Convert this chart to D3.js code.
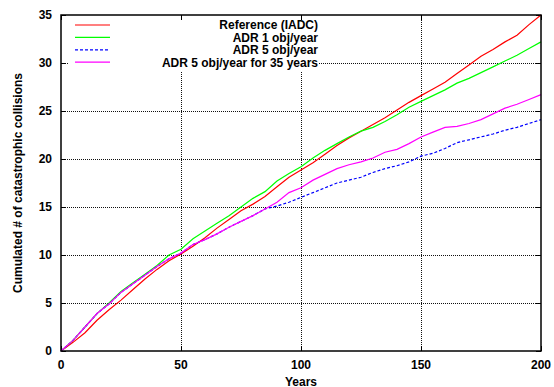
<!DOCTYPE html>
<html>
<head>
<meta charset="utf-8">
<script src="https://cdn.jsdelivr.net/npm/d3@7"></script>
<style>
  body { margin: 0; background: #fff; }
  text { font-family: "Liberation Sans", Arial, sans-serif; font-weight: bold; fill: #000; }
</style>
</head>
<body>
<div id="chart"></div>
<script>
const width = 554;
const height = 387;

// years sampled every 5
const years = d3.range(0, 201, 5);

const reference = [0, 0.9, 1.9, 3.2, 4.3, 5.3, 6.4, 7.5, 8.5, 9.4, 10.1, 10.9, 11.8, 12.8, 13.7, 14.6, 15.3, 16.1, 17.1, 18.1, 18.85,
  19.6, 20.5, 21.4, 22.2, 22.9, 23.6, 24.3, 25.1, 25.9, 26.6, 27.3, 28.0, 28.9, 29.8, 30.7, 31.4, 32.2, 32.9, 34.0, 35.0];
const adr1 = [0, 1.1, 2.5, 3.9, 5.0, 6.2, 7.1, 8.0, 8.9, 10.0, 10.6, 11.7, 12.5, 13.3, 14.1, 15.0, 15.9, 16.6, 17.7, 18.5, 19.2,
  20.1, 20.9, 21.6, 22.3, 22.9, 23.3, 23.9, 24.6, 25.4, 26.0, 26.6, 27.2, 27.9, 28.4, 29.0, 29.6, 30.2, 30.8, 31.5, 32.2];
const adr5 = [0, 1.1, 2.5, 3.9, 4.9, 6.1, 7.0, 7.9, 8.8, 9.6, 10.2, 11.1, 11.6, 12.2, 12.9, 13.5, 14.1, 14.8, 15.1, 15.5, 16.0,
  16.5, 17.0, 17.5, 17.8, 18.1, 18.6, 19.0, 19.3, 19.7, 20.3, 20.6, 21.1, 21.7, 22.0, 22.3, 22.6, 23.0, 23.3, 23.7, 24.1];
const adr5for35 = [0, 1.1, 2.5, 3.9, 4.9, 6.1, 7.0, 7.9, 8.8, 9.6, 10.2, 11.1, 11.6, 12.2, 12.9, 13.5, 14.1, 14.8, 15.5, 16.5, 17.0,
  17.8, 18.4, 19.0, 19.4, 19.7, 20.1, 20.7, 21.0, 21.6, 22.3, 22.8, 23.3, 23.4, 23.7, 24.1, 24.7, 25.3, 25.7, 26.2, 26.7];

const seriesNames = ["Reference (IADC)", "ADR 1 obj/year", "ADR 5 obj/year", "ADR 5 obj/year for 35 years"];
const seriesValues = [reference, adr1, adr5, adr5for35];
const seriesColors = ["#ff0000", "#00ff00", "#0000ff", "#ff00ff"];
const seriesDash = [null, null, "3,2", null];

const xTicks = [0, 50, 100, 150, 200];
const yTicks = [0, 5, 10, 15, 20, 25, 30, 35];

const margin = { left: 61, right: 13, top: 15, bottom: 36 };

const svg = d3.select('#chart')
  .append('svg')
  .attr('width', width)
  .attr('height', height);

const x = d3.scaleLinear().domain([0, 200]).range([margin.left, width - margin.right]);
const y = d3.scaleLinear().domain([0, 35]).range([height - margin.bottom, margin.top]);

// grid
const grid = svg.append('g')
  .attr('stroke', '#111')
  .attr('stroke-width', 1)
  .attr('stroke-dasharray', '1,1');
grid.selectAll('.gx')
  .data(xTicks.slice(1, -1))
  .enter().append('line')
  .attr('x1', d => Math.round(x(d)) + 0.5).attr('x2', d => Math.round(x(d)) + 0.5)
  .attr('y1', y(0)).attr('y2', y(35));
grid.selectAll('.gy')
  .data(yTicks.slice(1, -1))
  .enter().append('line')
  .attr('y1', d => Math.round(y(d)) + 0.5).attr('y2', d => Math.round(y(d)) + 0.5)
  .attr('x1', x(0)).attr('x2', x(200));

// legend background box hides grid behind it
svg.append('rect')
  .attr('x', 68).attr('y', 18)
  .attr('width', 251).attr('height', 53)
  .attr('fill', '#fff');

// ticks (inside, mirrored)
const tickLen = 5;
const ticks = svg.append('g').attr('stroke', '#000').attr('stroke-width', 1);
xTicks.forEach(t => {
  const px = Math.round(x(t)) + 0.5;
  ticks.append('line').attr('x1', px).attr('x2', px).attr('y1', y(0)).attr('y2', y(0) - tickLen);
  ticks.append('line').attr('x1', px).attr('x2', px).attr('y1', y(35)).attr('y2', y(35) + tickLen);
});
yTicks.forEach(t => {
  const py = Math.round(y(t)) + 0.5;
  ticks.append('line').attr('x1', x(0)).attr('x2', x(0) + tickLen).attr('y1', py).attr('y2', py);
  ticks.append('line').attr('x1', x(200)).attr('x2', x(200) - tickLen).attr('y1', py).attr('y2', py);
});

// series
const line = d3.line()
  .x((d, i) => x(years[i]))
  .y(d => y(d));

seriesValues.forEach((vals, i) => {
  svg.append('path')
    .datum(vals)
    .attr('fill', 'none')
    .attr('stroke', seriesColors[i])
    .attr('stroke-width', 1.2)
    .attr('stroke-dasharray', seriesDash[i])
    .attr('d', line);
});

// frame
svg.append('rect')
  .attr('x', x(0)).attr('y', y(35))
  .attr('width', x(200) - x(0)).attr('height', y(0) - y(35))
  .attr('fill', 'none')
  .attr('stroke', '#000')
  .attr('stroke-width', 1.5);

// tick labels
svg.selectAll('.xl')
  .data(xTicks)
  .enter().append('text')
  .attr('x', d => x(d))
  .attr('y', 369)
  .attr('text-anchor', 'middle')
  .attr('font-size', 12)
  .text(d => d);

svg.selectAll('.yl')
  .data(yTicks)
  .enter().append('text')
  .attr('x', 52)
  .attr('y', d => y(d))
  .attr('dy', '0.36em')
  .attr('text-anchor', 'end')
  .attr('font-size', 12)
  .text(d => d);

// axis titles
svg.append('text')
  .attr('x', (x(0) + x(200)) / 2)
  .attr('y', 386)
  .attr('text-anchor', 'middle')
  .attr('font-size', 12)
  .text('Years');

svg.append('text')
  .attr('transform', `translate(22, ${(y(0) + y(35)) / 2}) rotate(-90)`)
  .attr('text-anchor', 'middle')
  .attr('font-size', 12)
  .text('Cumulated # of catastrophic collisions');

// legend
const legend = svg.append('g');
seriesNames.forEach((name, i) => {
  const ly = 25 + i * 12.4;
  legend.append('line')
    .attr('x1', 75).attr('x2', 110)
    .attr('y1', ly).attr('y2', ly)
    .attr('stroke', seriesColors[i])
    .attr('stroke-width', 1.2)
    .attr('stroke-dasharray', seriesDash[i]);
  legend.append('text')
    .attr('x', 318)
    .attr('y', ly)
    .attr('dy', '0.36em')
    .attr('text-anchor', 'end')
    .attr('font-size', 12)
    .text(name);
});
</script>
</body>
</html>
